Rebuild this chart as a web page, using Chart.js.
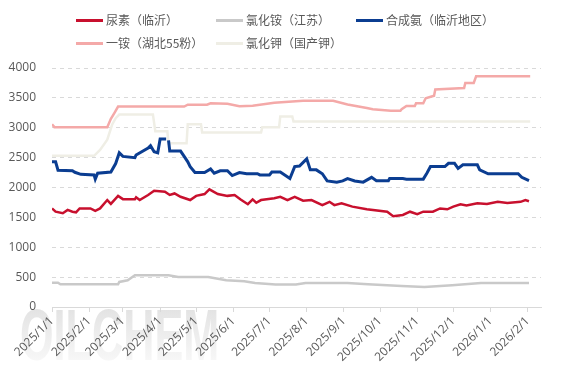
<!DOCTYPE html>
<html>
<head>
<meta charset="utf-8">
<script src="https://cdn.jsdelivr.net/npm/chart.js@4.4.1/dist/chart.umd.min.js"></script>
<style>
  body { margin: 0; background: #fff; }
  #wrap { position: relative; width: 566px; height: 378px; }
  #legend { position: absolute; left: 0; top: 0; width: 566px; height: 60px;
            font: 12px "Noto Sans CJK SC", sans-serif; color: #595959; }
  .item { position: absolute; display: flex; align-items: center; white-space: nowrap; line-height: 16px; }
  .swatch { width: 27px; height: 3px; margin-right: 3px; }
</style>
</head>
<body>
<div id="wrap">
  <canvas id="chart"></canvas>
  <div id="legend"></div>
</div>
<script>
// price series
const seriesNames = ['尿素（临沂）', '氯化铵（江苏）', '合成氨（临沂地区）', '一铵（湖北55粉）', '氯化钾（国产钾）'];
const seriesColors = ['#c8102e', '#c9c9c9', '#0b3d91', '#f4a9a8', '#efeee5'];

const monthTicks = ['2025-01-01', '2025-02-01', '2025-03-01', '2025-04-01', '2025-05-01', '2025-06-01', '2025-07-01',
  '2025-08-01', '2025-09-01', '2025-10-01', '2025-11-01', '2025-12-01', '2026-01-01', '2026-02-01'];
const tickLabels = ['2025/1/1', '2025/2/1', '2025/3/1', '2025/4/1', '2025/5/1', '2025/6/1', '2025/7/1',
  '2025/8/1', '2025/9/1', '2025/10/1', '2025/11/1', '2025/12/1', '2026/1/1', '2026/2/1'];

const ureaDates = ['2025-01-01','2025-01-04','2025-01-10','2025-01-14','2025-01-18','2025-01-21','2025-01-24','2025-02-02',
  '2025-02-06','2025-02-10','2025-02-16','2025-02-19','2025-02-25','2025-03-01','2025-03-11','2025-03-12','2025-03-15',
  '2025-03-22','2025-03-27','2025-04-05','2025-04-09','2025-04-13','2025-04-18','2025-04-26','2025-05-01','2025-05-08',
  '2025-05-12','2025-05-19','2025-05-27','2025-06-02','2025-06-07','2025-06-13','2025-06-17','2025-06-20','2025-06-24',
  '2025-07-05','2025-07-10','2025-07-16','2025-07-22','2025-07-29','2025-08-05','2025-08-14','2025-08-20','2025-08-24',
  '2025-08-30','2025-09-08','2025-09-20','2025-10-07','2025-10-12','2025-10-20','2025-10-26','2025-11-01','2025-11-06',
  '2025-11-14','2025-11-20','2025-11-26','2025-12-01','2025-12-07','2025-12-12','2025-12-21','2025-12-29','2026-01-07',
  '2026-01-15','2026-01-26','2026-01-30','2026-02-02'];
const ureaValues = [1650,1595,1570,1625,1595,1585,1650,1650,
  1610,1650,1790,1725,1860,1805,1805,1835,1790,
  1875,1945,1930,1875,1900,1845,1790,1860,1890,
  1970,1890,1860,1875,1800,1720,1800,1745,1790,
  1820,1845,1790,1845,1780,1790,1705,1760,1705,
  1735,1680,1635,1595,1520,1540,1595,1555,1595,
  1595,1650,1635,1680,1720,1700,1735,1725,1760,
  1740,1760,1790,1770];

const nh4clDates = ['2025-01-01','2025-01-06','2025-01-08','2025-02-25','2025-02-26','2025-03-05','2025-03-11','2025-04-08',
  '2025-04-16','2025-05-11','2025-05-26','2025-06-10','2025-06-19','2025-07-06','2025-07-23','2025-07-31','2025-09-04',
  '2025-09-21','2025-10-19','2025-11-07','2025-11-30','2025-12-24','2026-02-02'];
const nh4clValues = [405,405,380,380,420,448,532,532,
  503,503,448,430,403,375,375,403,403,
  380,352,336,364,403,403];

const ammoniaDates = ['2025-01-01','2025-01-04','2025-01-06','2025-01-18','2025-01-20','2025-01-25','2025-02-05','2025-02-06',
  '2025-02-08','2025-02-19','2025-02-23','2025-02-26','2025-03-01','2025-03-11','2025-03-12','2025-03-22','2025-03-24',
  '2025-03-27','2025-03-30','2025-04-01','2025-04-06','2025-04-07','2025-04-08','2025-04-09','2025-04-18','2025-04-21',
  '2025-04-24','2025-04-26','2025-04-30','2025-05-08','2025-05-13','2025-05-16','2025-05-21','2025-05-27','2025-05-31',
  '2025-06-06','2025-06-12','2025-06-21','2025-06-23','2025-07-01','2025-07-03','2025-07-10','2025-07-18','2025-07-22',
  '2025-07-26','2025-08-01','2025-08-04','2025-08-09','2025-08-14','2025-08-18','2025-08-26','2025-08-31','2025-09-04',
  '2025-09-10','2025-09-17','2025-09-24','2025-09-28','2025-10-08','2025-10-09','2025-10-20','2025-10-23','2025-11-06',
  '2025-11-09','2025-11-12','2025-11-24','2025-11-27','2025-12-02','2025-12-05','2025-12-09','2025-12-21','2025-12-23',
  '2025-12-30','2026-01-24','2026-01-27','2026-02-02'];
const ammoniaValues = [2430,2430,2290,2280,2255,2220,2210,2140,
  2240,2260,2400,2580,2520,2500,2545,2660,2700,
  2600,2580,2810,2810,null,2790,2610,2610,2520,
  2430,2350,2250,2250,2310,2240,2280,2280,2200,
  2250,2230,2230,2210,2210,2260,2260,2150,2350,
  2360,2480,2295,2295,2230,2110,2090,2110,2150,
  2110,2090,2170,2115,2115,2150,2150,2140,2140,
  2240,2350,2350,2405,2405,2320,2380,2380,2295,
  2230,2230,2170,2115];

const mapDates = ['2025-01-01','2025-01-03','2025-02-16','2025-02-19','2025-02-22','2025-02-25','2025-04-21','2025-04-24',
  '2025-05-10','2025-05-13','2025-05-27','2025-06-06','2025-06-17','2025-07-05','2025-07-29','2025-08-23','2025-09-04',
  '2025-09-20','2025-09-25','2025-10-10','2025-10-18','2025-10-19','2025-10-23','2025-10-30','2025-10-31','2025-11-06',
  '2025-11-08','2025-11-15','2025-11-16','2025-12-10','2025-12-11','2025-12-18','2025-12-20','2026-02-03'];
const mapValues = [3060,3010,3010,3150,3250,3355,3355,3385,
  3385,3410,3400,3360,3370,3420,3450,3450,3390,
  3330,3310,3285,3285,3310,3365,3365,3410,3410,
  3495,3535,3640,3665,3750,3750,3860,3860];

const potashDates = ['2025-01-01','2025-02-05','2025-02-10','2025-02-16','2025-02-20','2025-02-23','2025-02-26','2025-03-26',
  '2025-03-28','2025-04-07','2025-04-08','2025-04-23','2025-04-24','2025-05-05','2025-05-06','2025-06-24','2025-06-25',
  '2025-07-09','2025-07-10','2025-07-20','2025-07-21','2026-02-03'];
const potashValues = [2530,2530,2630,2800,3050,3160,3220,3220,
  2940,2940,2740,2740,3060,3060,2920,2920,3010,
  3010,3190,3190,3105,3105];

const yTicks = [0, 500, 1000, 1500, 2000, 2500, 3000, 3500, 4000];

const START = Date.parse('2025-01-01');
const toDay = d => (Date.parse(d) - START) / 86400000;
const pts = (dates, values) => dates.map((d, i) => ({ x: toDay(d), y: values[i] }));

const seriesData = [
  pts(ureaDates, ureaValues),
  pts(nh4clDates, nh4clValues),
  pts(ammoniaDates, ammoniaValues),
  pts(mapDates, mapValues),
  pts(potashDates, potashValues)
];
const lineWidths = [2.5, 2.5, 3, 2.5, 2.5];

// html legend in two rows, like the original
const legendPos = [[76, 12], [216, 12], [356, 12], [76, 35], [216, 35]];
const legendEl = document.getElementById('legend');
seriesNames.forEach((name, i) => {
  const item = document.createElement('div');
  item.className = 'item';
  item.style.left = legendPos[i][0] + 'px';
  item.style.top = legendPos[i][1] + 'px';
  item.innerHTML = `<span class="swatch" style="background:${seriesColors[i]}"></span><span>${name}</span>`;
  legendEl.appendChild(item);
});

const watermark = {
  id: 'watermark',
  beforeDraw(chart) {
    const ctx = chart.ctx;
    ctx.save();
    ctx.translate(20, 360);
    ctx.scale(0.6, 1);
    ctx.font = 'bold 72px "Liberation Sans"';
    const g = ctx.createLinearGradient(0, -54, 0, 0);
    g.addColorStop(0, '#e2e2e2');
    g.addColorStop(1, '#f7f7f7');
    ctx.fillStyle = g;
    ctx.fillText('OILCHEM', 0, 0);
    ctx.restore();
  }
};

const ctx = document.getElementById('chart').getContext('2d');
new Chart(ctx, {
  type: 'line',
  data: {
    datasets: seriesData.map((data, i) => ({
      label: seriesNames[i],
      data: data,
      borderColor: seriesColors[i],
      backgroundColor: seriesColors[i],
      borderWidth: lineWidths[i],
      pointRadius: 0,
      tension: 0,
      spanGaps: false
    }))
  },
  options: {
    responsive: true,
    maintainAspectRatio: false,
    animation: false,
    layout: { padding: { left: 0, right: 25, top: 68, bottom: 0 } },
    plugins: {
      legend: { display: false },
      tooltip: { enabled: false }
    },
    scales: {
      x: {
        type: 'linear',
        min: 0,
        max: toDay('2026-02-12'),
        afterBuildTicks: scale => {
          scale.ticks = monthTicks.map(d => ({ value: toDay(d) }));
        },
        afterFit: scale => {
          scale.height = 71;
          scale.paddingLeft = 0;
          scale.paddingRight = 0;
        },
        ticks: {
          autoSkip: false,
          minRotation: 45,
          maxRotation: 45,
          padding: 2,
          color: '#595959',
          font: { family: '"Open Sans"', size: 12 },
          callback: (v, i) => tickLabels[i]
        },
        grid: { drawOnChartArea: false, drawTicks: true, tickLength: 5, color: '#d9d9d9' },
        border: { display: true, color: '#d9d9d9' }
      },
      y: {
        min: 0,
        max: 4000,
        afterBuildTicks: scale => {
          scale.ticks = yTicks.map(v => ({ value: v }));
        },
        afterFit: scale => { scale.width = 52; },
        ticks: {
          padding: 16,
          color: '#595959',
          font: { family: '"Open Sans"', size: 12 },
          callback: v => String(v)
        },
        grid: { drawTicks: false, color: '#d9d9d9' },
        border: { display: false, dash: [4, 4] }
      }
    }
  },
  plugins: [watermark]
});
</script>
</body>
</html>
